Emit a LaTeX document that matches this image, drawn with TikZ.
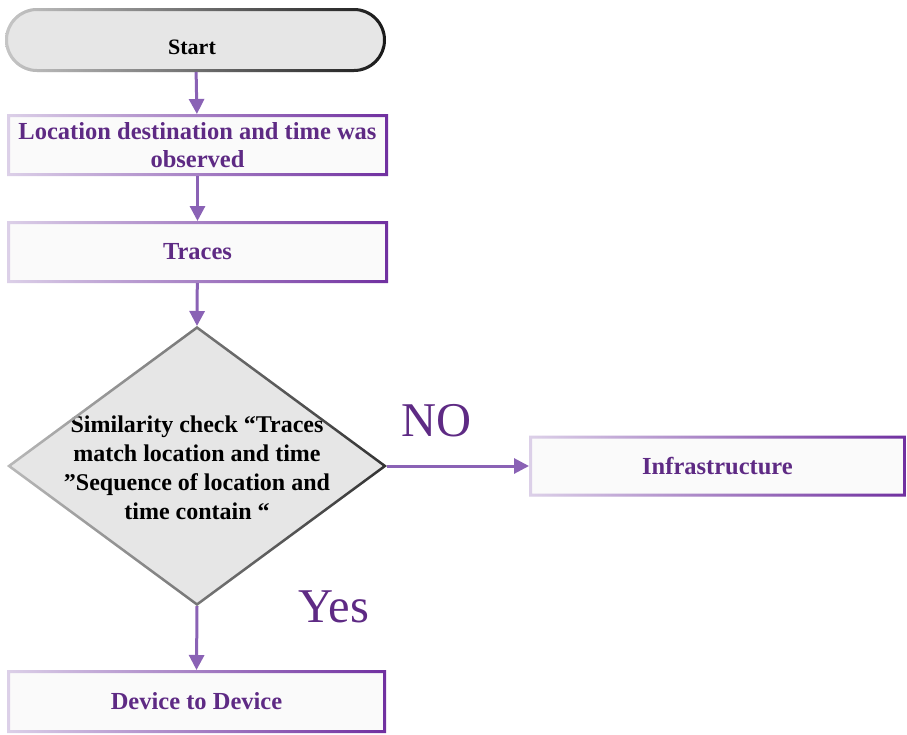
\documentclass[tikz,border=0pt]{standalone}
\usepackage{fontspec}
\setmainfont{Liberation Serif}
\usetikzlibrary{shapes.geometric,arrows.meta}
\definecolor{txtpurple}{HTML}{5E2A84}
\definecolor{bordpurple}{HTML}{7030A0}
\definecolor{bordlight}{HTML}{DCD0E8}
\definecolor{arrpurple}{HTML}{8A62B5}
\definecolor{boxfill}{HTML}{FAFAFA}
\definecolor{grayfill}{HTML}{E6E6E6}
\tikzset{
  procbox/.style={rectangle, fill=boxfill, inner sep=0pt, outer sep=0pt, align=center,
    text=txtpurple, font=\bfseries\fontsize{24.5}{28}\selectfont},
  termbox/.style={rectangle, rounded corners=32pt, fill=grayfill, inner sep=0pt, outer sep=0pt},
  termtext/.style={font=\bfseries\fontsize{22}{24}\selectfont},
  decbox/.style={diamond, fill=grayfill, inner sep=0pt, outer sep=0pt},
  dectext/.style={align=center, font=\bfseries\fontsize{24}{29}\selectfont},
  arr/.style={draw=arrpurple, line width=3pt, -{Triangle[length=15pt,width=15pt]}},
  biglabel/.style={text=txtpurple, font=\fontsize{48.5}{50}\selectfont}
}
\begin{document}
\begin{tikzpicture}[x=1pt,y=-1pt]
\useasboundingbox (0,0) rectangle (907,734);
% nodes
\node[termbox, minimum width=381pt, minimum height=64pt] (start) at (195.5,40) {};
\node[termtext] (starttxt) at (192,47) {Start};
\node[procbox, minimum width=381pt, minimum height=62pt] (loc) at (197.5,145) {Location destination and time was\\observed};
\node[procbox, minimum width=381pt, minimum height=62pt] (traces) at (197.5,252) {Traces};
\node[decbox, minimum width=380pt, minimum height=280pt] (dec) at (197,466) {};
\node[dectext] (dectxt) at (197,468) {Similarity check “Traces\\match location and time\\”Sequence of location and\\time contain “};
\node[procbox, minimum width=377pt, minimum height=61pt] (infra) at (717.5,466) {Infrastructure};
\node[procbox, minimum width=379pt, minimum height=63pt] (dev) at (196.5,701.5) {Device to Device};
% gradient borders of the boxes
\foreach \n in {loc,traces,infra,dev}{
  \shade[left color=bordlight, right color=bordpurple, even odd rule]
    (\n.north west) rectangle (\n.south east)
    ([shift={(3pt,-3pt)}]\n.north west) rectangle ([shift={(-3pt,3pt)}]\n.south east);
}
\shade[left color=gray!45, right color=black!90, even odd rule]
  [rounded corners=32pt] (start.north west) rectangle (start.south east)
  [rounded corners=29pt] ([shift={(3pt,-3pt)}]start.north west) rectangle ([shift={(-3pt,3pt)}]start.south east);
\shade[left color=gray!55, right color=black!80, even odd rule]
  (dec.north) -- (dec.east) -- (dec.south) -- (dec.west) -- cycle
  ([shift={(0pt,-3.1pt)}]dec.north) -- ([shift={(-4.2pt,0pt)}]dec.east) -- ([shift={(0pt,3.1pt)}]dec.south) -- ([shift={(4.2pt,0pt)}]dec.west) -- cycle;
% connectors
\draw[arr] (start) -- (loc);
\draw[arr] (loc) -- (traces);
\draw[arr] (traces) -- (dec.north);
\draw[arr] (dec.east) -- (infra.west);
\draw[arr] (dec.south) -- (dev.north);
% labels
\node[biglabel] (nolabel) at (437,421) {NO};
\node[biglabel] (yeslabel) at (334,607) {Yes};
\end{tikzpicture}
\end{document}
